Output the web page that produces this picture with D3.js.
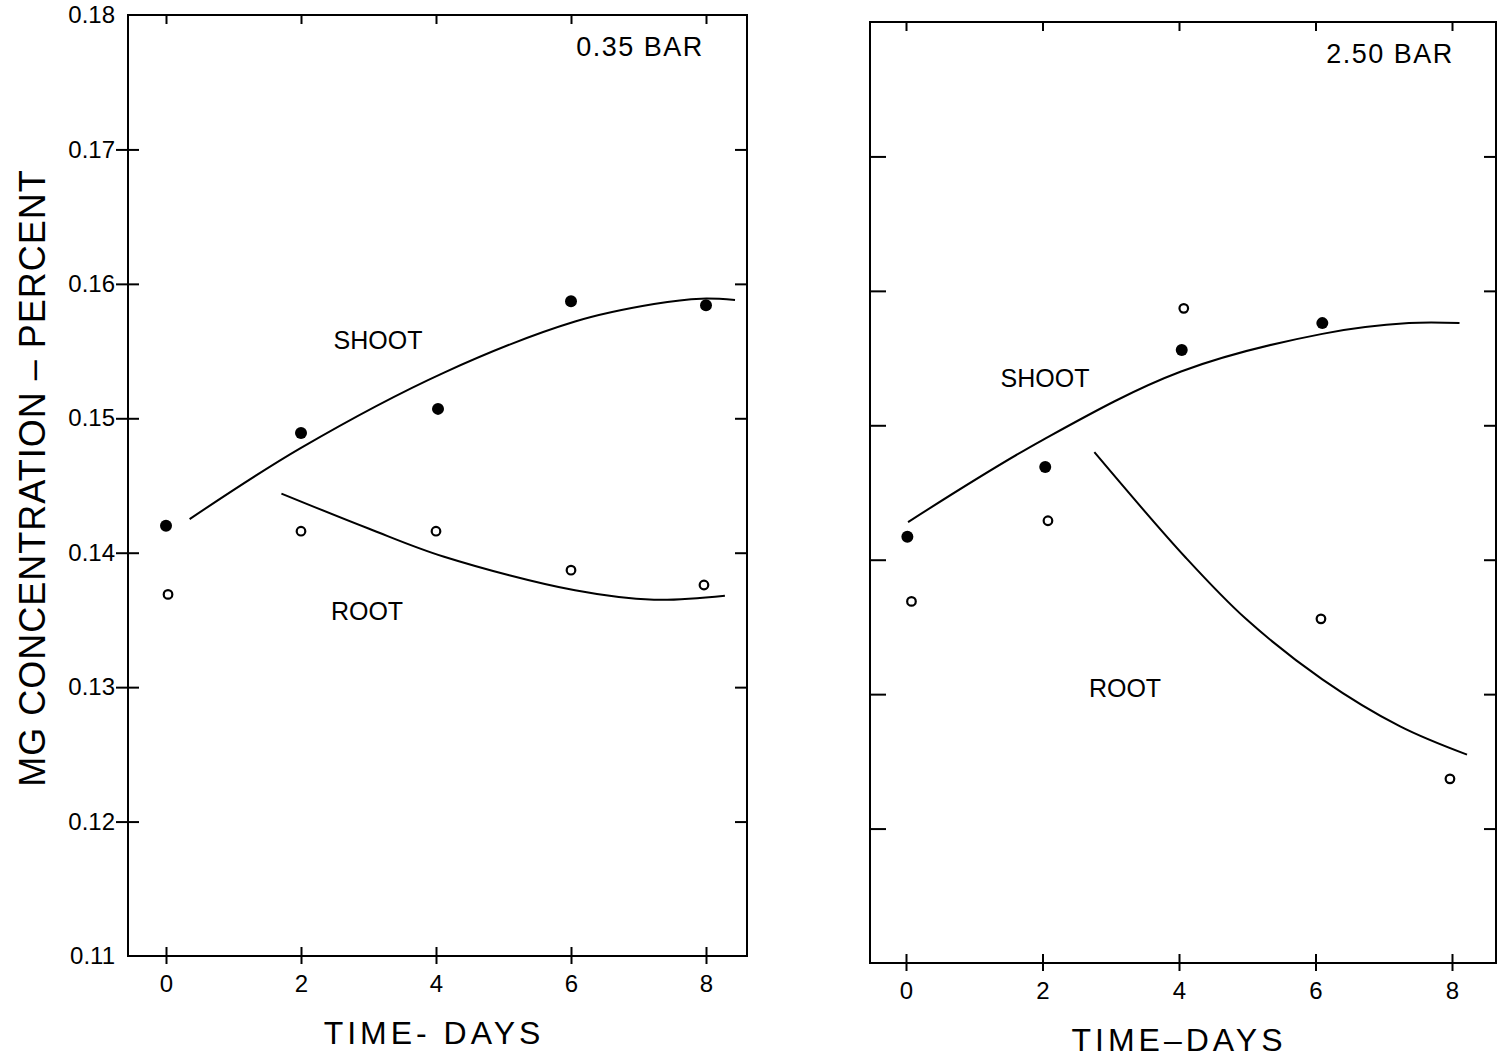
<!DOCTYPE html>
<html>
<head>
  <meta charset="utf-8">
  <title>MG concentration - shoot and root</title>
  <script src="https://d3js.org/d3.v7.min.js"></script>
  <style>
    body { margin: 0; background: #fff; }
    svg { display: block; }
    text { font-family: "Liberation Sans", Arial, sans-serif; fill: #000; }
    .axis path { display: none; }
    .axis line { stroke: #000; stroke-width: 2; }
    .axis text { font-size: 24px; }
    .frame { fill: none; stroke: #000; stroke-width: 2; }
    .fit { fill: none; stroke: #000; stroke-width: 2; }
  </style>
</head>
<body>
  <div id="chart"></div>

  <script>
    // axis ticks
    const dayTicks = [0, 2, 4, 6, 8];
    const concTicks = [0.11, 0.12, 0.13, 0.14, 0.15, 0.16, 0.17, 0.18];

    // 0.35 bar panel, measured points
    const shoot35Days = [0, 2, 4.03, 6, 8];
    const shoot35 = [0.1420, 0.1489, 0.1507, 0.1587, 0.1584];
    const root35Days = [0.03, 2, 4, 6, 7.97];
    const root35 = [0.1369, 0.1416, 0.1416, 0.1387, 0.1376];
    // 0.35 bar panel, hand fitted curves
    const shoot35FitDays = [0.35, 2.0, 4.12, 6.06, 7.23, 7.93, 8.43];
    const shoot35Fit = [0.1425, 0.1478, 0.1534, 0.1572, 0.1585, 0.1589, 0.1588];
    const root35FitDays = [1.71, 3.0, 4.12, 6.06, 7.23, 8.28];
    const root35Fit = [0.1444, 0.1418, 0.1397, 0.1372, 0.1365, 0.1368];

    // 2.50 bar panel, measured points
    const shoot250Days = [0.02, 2.04, 4.04, 6.1];
    const shoot250 = [0.1417, 0.1469, 0.1556, 0.1576];
    const root250Days = [0.08, 2.08, 4.07, 6.08, 7.97];
    const root250 = [0.1369, 0.1429, 0.1587, 0.1356, 0.1237];
    // 2.50 bar panel, hand fitted curves
    const shoot250FitDays = [0.03, 2.0, 4.03, 6.1, 7.37, 8.11];
    const shoot250Fit = [0.1428, 0.1489, 0.1540, 0.1568, 0.1576, 0.1576];
    const root250FitDays = [2.76, 4.09, 4.98, 6.1, 7.24, 8.22];
    const root250Fit = [0.1480, 0.1402, 0.1356, 0.1311, 0.1276, 0.1255];

    const svg = d3.select("#chart")
      .append("svg")
      .attr("width", 1497)
      .attr("height", 1060);

    const zip = (xs, ys) => xs.map((d, i) => [d, ys[i]]);

    function drawPanel(p) {
      const x = d3.scaleLinear().domain([0, 8]).range([p.x0, p.x8]);
      const y = d3.scaleLinear().domain([0.11, 0.18]).range([p.bottom, p.top]);
      const g = svg.append("g");
      const inner = concTicks.slice(1, -1);

      g.append("path")
        .attr("class", "frame")
        .attr("d", `M${p.left},${p.top}H${p.right}V${p.bottom}H${p.left}Z`);

      // bottom axis, ticks cross the frame
      const xAxis = g.append("g")
        .attr("class", "axis")
        .attr("transform", `translate(0,${p.bottom})`)
        .call(d3.axisBottom(x).tickValues(dayTicks).tickSize(8).tickPadding(11).tickFormat(d3.format("d")));
      xAxis.selectAll(".tick line").attr("y1", -9);

      // top ticks
      g.append("g")
        .attr("class", "axis")
        .attr("transform", `translate(0,${p.top})`)
        .call(d3.axisTop(x).tickValues(dayTicks).tickSize(-9).tickFormat(""));

      // right side ticks, inward
      g.append("g")
        .attr("class", "axis")
        .attr("transform", `translate(${p.right},0)`)
        .call(d3.axisRight(y).tickValues(inner).tickSize(-12).tickFormat(""));

      if (p.labels) {
        const yAxis = g.append("g")
          .attr("class", "axis")
          .attr("transform", `translate(${p.left},0)`)
          .call(d3.axisLeft(y).tickValues(concTicks).tickSize(12).tickPadding(4).tickFormat(d3.format(".2f")));
        yAxis.selectAll(".tick line")
          .attr("x1", 11)
          .style("display", d => (d === 0.11 || d === 0.18) ? "none" : null);
        yAxis.selectAll(".tick text").attr("x", -13);
      } else {
        g.append("g")
          .attr("class", "axis")
          .attr("transform", `translate(${p.left},0)`)
          .call(d3.axisLeft(y).tickValues(inner).tickSize(-16).tickFormat(""));
      }

      const line = d3.line()
        .x(d => x(d[0]))
        .y(d => y(d[1]))
        .curve(d3.curveCatmullRom.alpha(0.5));

      g.append("path").attr("class", "fit").datum(zip(p.shootFitDays, p.shootFit)).attr("d", line);
      g.append("path").attr("class", "fit").datum(zip(p.rootFitDays, p.rootFit)).attr("d", line);

      g.selectAll(".shoot")
        .data(zip(p.shootDays, p.shoot))
        .enter()
        .append("circle")
        .attr("class", "shoot")
        .attr("cx", d => x(d[0]))
        .attr("cy", d => y(d[1]))
        .attr("r", 6)
        .style("fill", "#000");

      g.selectAll(".root")
        .data(zip(p.rootDays, p.root))
        .enter()
        .append("circle")
        .attr("class", "root")
        .attr("cx", d => x(d[0]))
        .attr("cy", d => y(d[1]))
        .attr("r", 4.3)
        .style("fill", "#fff")
        .style("stroke", "#000")
        .style("stroke-width", 2.2);

      g.append("text")
        .attr("x", p.barX)
        .attr("y", p.top + 41)
        .attr("text-anchor", "middle")
        .style("font-size", "27px")
        .style("letter-spacing", "1.5px")
        .text(p.bar);

      g.append("text")
        .attr("x", p.shootLabel[0]).attr("y", p.shootLabel[1])
        .attr("text-anchor", "middle")
        .style("font-size", "25px")
        .text("SHOOT");

      g.append("text")
        .attr("x", p.rootLabel[0]).attr("y", p.rootLabel[1])
        .attr("text-anchor", "middle")
        .style("font-size", "25px")
        .text("ROOT");

      g.append("text")
        .attr("x", p.titleX)
        .attr("y", p.bottom + 88)
        .attr("text-anchor", "middle")
        .style("font-size", "32px")
        .style("letter-spacing", "4px")
        .text(p.xTitle);
    }

    drawPanel({
      left: 128, right: 747, top: 15, bottom: 956, x0: 166, x8: 706,
      labels: true, bar: "0.35 BAR", barX: 640, xTitle: "TIME- DAYS", titleX: 434,
      shootLabel: [378, 349], rootLabel: [367, 620],
      shootDays: shoot35Days, shoot: shoot35, rootDays: root35Days, root: root35,
      shootFitDays: shoot35FitDays, shootFit: shoot35Fit, rootFitDays: root35FitDays, rootFit: root35Fit
    });

    drawPanel({
      left: 870, right: 1496, top: 22, bottom: 963, x0: 906, x8: 1452,
      labels: false, bar: "2.50 BAR", barX: 1390, xTitle: "TIME–DAYS", titleX: 1179,
      shootLabel: [1045, 387], rootLabel: [1125, 697],
      shootDays: shoot250Days, shoot: shoot250, rootDays: root250Days, root: root250,
      shootFitDays: shoot250FitDays, shootFit: shoot250Fit, rootFitDays: root250FitDays, rootFit: root250Fit
    });

    svg.append("text")
      .attr("transform", "translate(45,478) rotate(-90)")
      .attr("text-anchor", "middle")
      .style("font-size", "36px")
      .style("letter-spacing", "1px")
      .text("MG CONCENTRATION – PERCENT");
  </script>
</body>
</html>
